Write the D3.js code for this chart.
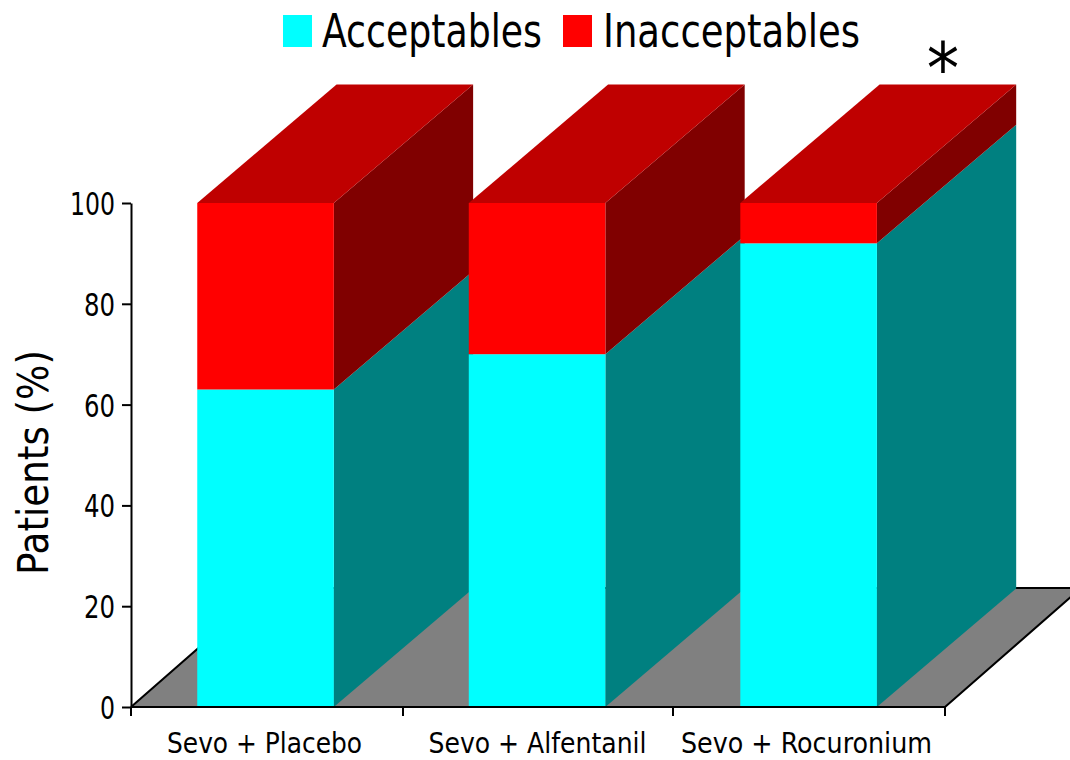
<!DOCTYPE html>
<html>
<head>
<meta charset="utf-8">
<script src="https://cdn.jsdelivr.net/npm/d3@7/dist/d3.min.js"></script>
<style>
html,body{margin:0;padding:0;background:#fff}
svg{display:block}
text{font-family:"DejaVu Sans Condensed","DejaVu Sans",sans-serif;fill:#000}
</style>
</head>
<body>
<svg id="chart" width="1070" height="760"></svg>
<script>
const categories = ["Sevo + Placebo", "Sevo + Alfentanil", "Sevo + Rocuronium"];
const acceptables = [63, 70, 92];
const inacceptables = [37, 30, 8];
const yTicks = [0, 20, 40, 60, 80, 100];
const legendLabels = ["Acceptables", "Inacceptables"];

const svg = d3.select("#chart");
const x = d3.scaleBand().domain(categories).range([131, 946.4])
  .paddingInner(0.497).paddingOuter(0.25).align(0.488);
const y = d3.scaleLinear().domain([0, 100]).range([707, 203]);

// Oblique projection used for the pseudo-3D depth
const depth = { dx: 139.3, dy: -118.5 };
const floorDepth = { dx: 136, dy: -119 };
const poly = pts => pts.map(p => p.join(",")).join(" ");

// Floor plane
const x0 = 131, x1 = 945;
svg.append("polygon")
  .attr("points", poly([[x0, y(0)], [x1, y(0)], [x1 + floorDepth.dx, y(0) + floorDepth.dy], [x0 + floorDepth.dx, y(0) + floorDepth.dy]]))
  .attr("fill", "#808080");
svg.append("path")
  .attr("d", `M${x0},${y(0)}L${x0 + floorDepth.dx},${y(0) + floorDepth.dy}L${x1 + floorDepth.dx},${y(0) + floorDepth.dy}L${x1},${y(0)}`)
  .attr("fill", "none").attr("stroke", "#000").attr("stroke-width", 2);

// Stacked prisms, drawn left to right so each front face covers the previous side face
const segments = [
  { values: acceptables, front: "#00ffff", side: "#008080", top: null },
  { values: inacceptables, front: "#ff0000", side: "#800000", top: "#bf0000" }
];
categories.forEach((cat, i) => {
  const l = x(cat), r = l + x.bandwidth();
  let base = 0;
  segments.forEach(seg => {
    const v0 = base, v1 = base + seg.values[i];
    const g = svg.append("g");
    g.append("polygon")
      .attr("points", poly([[r, y(v0)], [r + depth.dx, y(v0) + depth.dy], [r + depth.dx, y(v1) + depth.dy], [r, y(v1)]]))
      .attr("fill", seg.side);
    if (seg.top) {
      g.append("polygon")
        .attr("points", poly([[l, y(v1)], [r, y(v1)], [r + depth.dx, y(v1) + depth.dy], [l + depth.dx, y(v1) + depth.dy]]))
        .attr("fill", seg.top);
    }
    g.append("rect")
      .attr("x", l).attr("y", y(v1))
      .attr("width", x.bandwidth()).attr("height", y(v0) - y(v1))
      .attr("fill", seg.front);
    base = v1;
  });
});

// Value axis
const yAxis = svg.append("g").attr("transform", `translate(${x0},0)`)
  .call(d3.axisLeft(y).tickValues(yTicks).tickSize(9).tickPadding(7).tickSizeOuter(0));
yAxis.select(".domain").attr("stroke", "#000").attr("stroke-width", 2);
yAxis.selectAll(".tick line").attr("stroke", "#000").attr("stroke-width", 2);
yAxis.selectAll(".tick text")
  .style("font-family", '"DejaVu Sans Condensed","DejaVu Sans",sans-serif')
  .style("font-size", "32px")
  .attr("textLength", d => d === 100 ? 45 : d === 0 ? 15 : 31)
  .attr("lengthAdjust", "spacingAndGlyphs")
  .attr("dy", "0.36em");

// Category axis: ticks sit on the band edges, labels are centred by hand below them
const edgeTicks = [131, 403, 673, 945];
const xAxisLine = svg.append("g");
xAxisLine.append("line").attr("x1", x0).attr("x2", x1).attr("y1", y(0)).attr("y2", y(0))
  .attr("stroke", "#000").attr("stroke-width", 2);
xAxisLine.selectAll("line.tick").data(edgeTicks).join("line").attr("class", "tick")
  .attr("x1", d => d).attr("x2", d => d).attr("y1", y(0)).attr("y2", y(0) + 9)
  .attr("stroke", "#000").attr("stroke-width", 2);

const labelCenters = [264.5, 537.5, 806.5];
const labelWidths = [195, 218, 251];
svg.selectAll("text.cat").data(categories).join("text").attr("class", "cat")
  .attr("x", (d, i) => labelCenters[i]).attr("y", 753)
  .attr("text-anchor", "middle").attr("font-size", 29)
  .attr("textLength", (d, i) => labelWidths[i]).attr("lengthAdjust", "spacingAndGlyphs")
  .text(d => d);

// Axis title
svg.append("text")
  .attr("transform", "translate(48,462.5) rotate(-90)")
  .attr("text-anchor", "middle").attr("font-size", 42)
  .attr("textLength", 225).attr("lengthAdjust", "spacingAndGlyphs")
  .text("Patients (%)");

// Legend
const legendX = [283, 563], legendTextX = [322, 603], legendTextW = [220, 257];
const legendColors = ["#00ffff", "#ff0000"];
legendLabels.forEach((name, i) => {
  svg.append("rect").attr("x", legendX[i]).attr("y", 15).attr("width", 29).attr("height", 32).attr("fill", legendColors[i]);
  svg.append("text").attr("x", legendTextX[i]).attr("y", 47)
    .attr("font-size", 47)
    .attr("textLength", legendTextW[i]).attr("lengthAdjust", "spacingAndGlyphs")
    .text(name);
});

// Significance marker
svg.append("text").attr("x", 943).attr("y", 93).attr("text-anchor", "middle")
  .attr("font-size", 72).text("*");
</script>
</body>
</html>
